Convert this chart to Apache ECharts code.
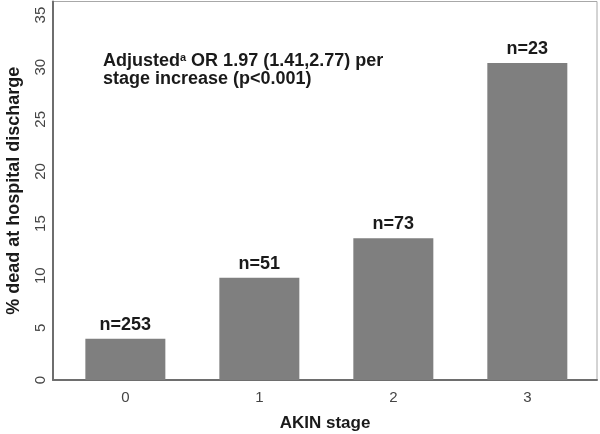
<!DOCTYPE html>
<html>
<head>
<meta charset="utf-8">
<script src="https://cdn.jsdelivr.net/npm/echarts@6/dist/echarts.min.js"></script>
<style>html,body{margin:0;padding:0;background:#fff;}#c{width:600px;height:434px;}</style>
</head>
<body>
<div id="c"></div>
<script>
var categories = [0, 1, 2, 3];
var pctDead = [3.95, 9.8, 13.6, 30.4];
var nLabels = ['n=253', 'n=51', 'n=73', 'n=23'];
var yTicks = [0, 5, 10, 15, 20, 25, 30, 35];

var FONT = '"Liberation Sans", Arial, Helvetica, sans-serif';
var chart = echarts.init(document.getElementById('c'), null, {renderer: 'canvas'});
var data = categories.map(function (c, i) {
  return {value: [c, pctDead[i]], label: {formatter: nLabels[i]}};
});
chart.setOption({
  animation: false,
  backgroundColor: '#ffffff',
  textStyle: {fontFamily: FONT},
  grid: {left: 53, right: 3, top: 1.5, bottom: 54, show: true, borderColor: '#a8a8a8', borderWidth: 1,
         containLabel: false, outerBoundsMode: 'none'},
  title: {
    left: 98, top: 47,
    text: 'Adjusted{sup|a} OR 1.97 (1.41,2.77) per\nstage increase (p<0.001)',
    textStyle: {
      fontFamily: FONT, fontSize: 18, fontWeight: 'bold', color: '#1a1a1a', lineHeight: 18,
      rich: {sup: {fontSize: 11, fontWeight: 'bold', verticalAlign: 'top', color: '#1a1a1a', padding: [0, 0, 6, 0]}}
    }
  },
  xAxis: {
    type: 'value', min: -0.54, max: 3.52,
    name: 'AKIN stage', nameLocation: 'middle', nameGap: 35,
    nameTextStyle: {fontFamily: FONT, fontSize: 17, fontWeight: 'bold', color: '#1a1a1a'},
    axisLine: {show: true, onZero: false, lineStyle: {color: '#6e6e6e', width: 2}},
    axisTick: {show: false},
    splitLine: {show: false},
    axisLabel: {customValues: categories, fontSize: 15, color: '#444', margin: 10, fontFamily: FONT}
  },
  yAxis: {
    type: 'value', min: 0, max: 36.3,
    name: '% dead at hospital discharge', nameLocation: 'middle', nameGap: 30,
    nameTextStyle: {fontFamily: FONT, fontSize: 18, fontWeight: 'bold', color: '#1a1a1a'},
    axisLine: {show: true, onZero: false, lineStyle: {color: '#6e6e6e', width: 2}},
    axisTick: {show: false},
    splitLine: {show: false},
    axisLabel: {customValues: yTicks, rotate: 90, fontSize: 15, color: '#444', margin: 5, fontFamily: FONT}
  },
  series: [{
    type: 'bar',
    data: data,
    barWidth: 80,
    itemStyle: {color: '#7f7f7f'},
    label: {show: true, position: 'top', distance: 5, fontFamily: FONT, fontSize: 18, fontWeight: 'bold', color: '#1a1a1a'}
  }]
});
</script>
</body>
</html>
